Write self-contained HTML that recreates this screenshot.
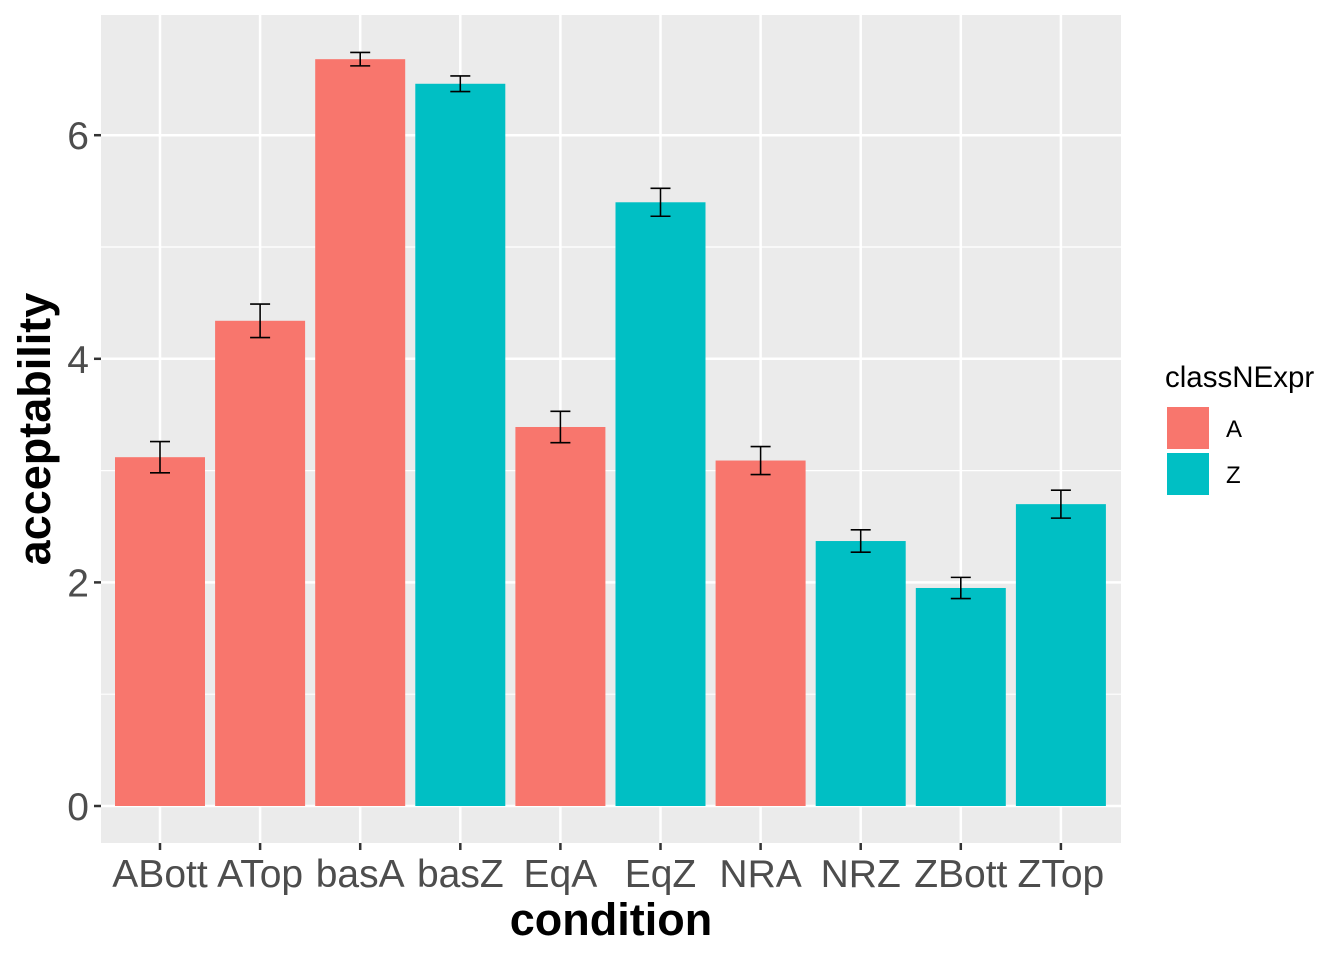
<!DOCTYPE html>
<html><head><meta charset="utf-8"><style>
body{margin:0;background:#fff;font-family:"Liberation Sans",sans-serif}
</style></head><body>
<svg id="chart" width="1344" height="960" xmlns="http://www.w3.org/2000/svg" font-family="Liberation Sans, sans-serif"></svg>
<script>
const categories=["ABott","ATop","basA","basZ","EqA","EqZ","NRA","NRZ","ZBott","ZTop"];
const groups=["A","A","A","Z","A","Z","A","Z","Z","Z"];
const values=[3.12,4.34,6.68,6.46,3.39,5.40,3.09,2.37,1.95,2.70];
const errors=[0.14,0.15,0.06,0.07,0.14,0.125,0.125,0.1,0.095,0.125];
const yTicks=[0,2,4,6];
const yMinor=[1,3,5];
const legendKeys=["A","Z"];
const colors={A:"#F8766D",Z:"#00BFC4"};
const NS="http://www.w3.org/2000/svg";
const svg=document.getElementById('chart');
const L=101,R=1121,T=15,B=843;
const y=v=>806-v*111.8;
const x=i=>160+i*100.1;
function mk(tag,attrs,parent){const e=document.createElementNS(NS,tag);for(const k in attrs)e.setAttribute(k,attrs[k]);(parent||svg).appendChild(e);return e;}
const bg=mk('rect',{x:L,y:T,width:R-L,height:B-T,fill:'#EBEBEB'});


yMinor.forEach(v=>{const l=mk('line',{x1:L,x2:R,y1:y(v),y2:y(v),stroke:'#fff','stroke-width':1.2});

});
yTicks.forEach(v=>{const l=mk('line',{x1:L,x2:R,y1:y(v),y2:y(v),stroke:'#fff','stroke-width':2.5});


const t=mk('line',{x1:94,x2:101,y1:y(v),y2:y(v),stroke:'#333','stroke-width':2.5});


const tx=mk('text',{x:89,y:y(v)+14,'text-anchor':'end','font-size':39,fill:'#4D4D4D'});tx.textContent=v;

});
categories.forEach((c,i)=>{const l=mk('line',{x1:x(i),x2:x(i),y1:T,y2:B,stroke:'#fff','stroke-width':2.5});

});
categories.forEach((c,i)=>{
const r=mk('rect',{x:x(i)-45,y:y(values[i]),width:90,height:y(0)-y(values[i]),fill:colors[groups[i]]});


const g=mk('g',{stroke:'#000','stroke-width':1.6,fill:'none'});


const hi=y(values[i]+errors[i]),lo=y(values[i]-errors[i]);
mk('line',{x1:x(i),x2:x(i),y1:hi,y2:lo},g);
mk('line',{x1:x(i)-10,x2:x(i)+10,y1:hi,y2:hi},g);
mk('line',{x1:x(i)-10,x2:x(i)+10,y1:lo,y2:lo},g);
const t=mk('line',{x1:x(i),x2:x(i),y1:B,y2:850,stroke:'#333','stroke-width':2.5});


const tx=mk('text',{x:x(i),y:887,'text-anchor':'middle','font-size':39,fill:'#4D4D4D'});tx.textContent=c;


});
const xt=mk('text',{x:611,y:935,'text-anchor':'middle','font-size':45,'font-weight':'bold',fill:'#000'});xt.textContent='condition';


const yt=mk('text',{x:0,y:0,'text-anchor':'middle','font-size':45,'font-weight':'bold',fill:'#000',transform:'translate(50,429) rotate(-90)'});yt.textContent='acceptability';


const lt=mk('text',{x:1165,y:387,'font-size':29.5,fill:'#000'});lt.textContent='classNExpr';


legendKeys.forEach((k,i)=>{
const r=mk('rect',{x:1167,y:407+i*46,width:42,height:42,fill:colors[k]});


const t=mk('text',{x:1226,y:437+i*46,'font-size':24,fill:'#000'});t.textContent=k;


});
</script>
</body></html>
